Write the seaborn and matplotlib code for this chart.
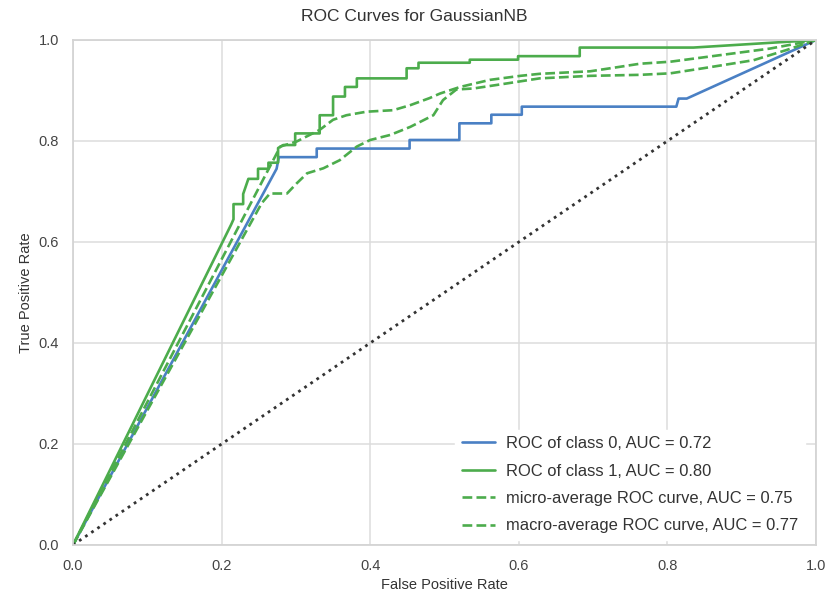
import matplotlib
matplotlib.use("Agg")
import matplotlib.pyplot as plt
import pandas as pd
import seaborn as sns

# ROC curve points (false positive rate, true positive rate)
class0_fpr = [0.0, 0.274, 0.277, 0.328, 0.328, 0.453, 0.453, 0.520, 0.520, 0.563, 0.563,
              0.604, 0.604, 0.812, 0.815, 0.826, 1.0]
class0_tpr = [0.0, 0.745, 0.768, 0.768, 0.785, 0.785, 0.802, 0.802, 0.835, 0.835, 0.852,
              0.852, 0.868, 0.868, 0.884, 0.884, 1.0]

class1_fpr = [0.0, 0.213, 0.216, 0.216, 0.229, 0.229, 0.236, 0.249, 0.249, 0.263, 0.263,
              0.276, 0.276, 0.283, 0.299, 0.299, 0.332, 0.332, 0.350, 0.350, 0.366, 0.366,
              0.382, 0.382, 0.449, 0.449, 0.465, 0.465, 0.534, 0.534, 0.599, 0.599, 0.682,
              0.682, 0.835, 1.0]
class1_tpr = [0.0, 0.635, 0.645, 0.675, 0.675, 0.695, 0.725, 0.725, 0.745, 0.745, 0.757,
              0.757, 0.786, 0.792, 0.792, 0.815, 0.815, 0.851, 0.851, 0.888, 0.888, 0.907,
              0.907, 0.924, 0.924, 0.944, 0.944, 0.955, 0.955, 0.961, 0.961, 0.968, 0.968,
              0.985, 0.985, 1.0]

micro_fpr = [0.0, 0.254, 0.265, 0.288, 0.301, 0.315, 0.337, 0.359, 0.382, 0.400, 0.427,
             0.454, 0.485, 0.498, 0.516, 0.539, 0.584, 0.628, 0.696, 0.763, 0.804, 0.848,
             0.916, 0.960, 1.0]
micro_tpr = [0.0, 0.677, 0.696, 0.696, 0.716, 0.736, 0.746, 0.762, 0.789, 0.802, 0.812,
             0.828, 0.851, 0.881, 0.902, 0.904, 0.914, 0.924, 0.929, 0.931, 0.934, 0.944,
             0.960, 0.980, 1.0]

macro_fpr = [0.0, 0.279, 0.301, 0.332, 0.350, 0.368, 0.395, 0.431, 0.454, 0.480, 0.494,
             0.521, 0.561, 0.602, 0.628, 0.696, 0.732, 0.763, 0.804, 0.871, 0.938, 1.0]
macro_tpr = [0.0, 0.789, 0.799, 0.822, 0.842, 0.851, 0.858, 0.861, 0.871, 0.885, 0.894,
             0.907, 0.921, 0.929, 0.933, 0.938, 0.946, 0.953, 0.957, 0.970, 0.983, 1.0]

labels = ["ROC of class 0, AUC = 0.72",
          "ROC of class 1, AUC = 0.80",
          "micro-average ROC curve, AUC = 0.75",
          "macro-average ROC curve, AUC = 0.77"]

diag = [0.0, 1.0]
ticks = [0.0, 0.2, 0.4, 0.6, 0.8, 1.0]

sns.set_theme(style="whitegrid")
plt.rcParams["font.family"] = ["Liberation Sans", "DejaVu Sans"]
plt.rcParams["axes.edgecolor"] = "#d4d4d4"
plt.rcParams["grid.color"] = "#dcdcdc"
plt.rcParams["grid.linewidth"] = 1.1

fig = plt.figure(figsize=(8.26, 5.96), dpi=100)
ax = fig.add_axes([0.0884, 0.0856, 0.8995, 0.8473])

blue = "#4a80c4"
green = "#4cac4c"

curves = [
    (class0_fpr, class0_tpr, blue, "-"),
    (class1_fpr, class1_tpr, green, "-"),
    (micro_fpr, micro_tpr, green, "--"),
    (macro_fpr, macro_tpr, green, "--"),
]
for (fx, fy, col, ls), lab in zip(curves, labels):
    df = pd.DataFrame({"fpr": fx, "tpr": fy})
    sns.lineplot(data=df, x="fpr", y="tpr", sort=False, estimator=None,
                 color=col, linestyle=ls, linewidth=1.9, label=lab, ax=ax)

sns.lineplot(x=diag, y=diag, color="#333333", linestyle=":", linewidth=2.0,
             sort=False, estimator=None, ax=ax)

ax.set_xlim(0, 1)
ax.set_ylim(0, 1)
ax.set_xticks(ticks)
ax.set_yticks(ticks)
ax.tick_params(labelsize=10.5, colors="#444444", pad=4)
ax.set_xlabel("False Positive Rate", fontsize=10.5, color="#333333")
ax.set_ylabel("True Positive Rate", fontsize=10.5, color="#333333")
ax.set_title("ROC Curves for GaussianNB", fontsize=12.5, color="#333333",
             x=0.459, pad=14)
for s in ax.spines.values():
    s.set_linewidth(1.3)

leg = ax.legend(loc="lower right", bbox_to_anchor=(0.992, 0.0), fontsize=11.9,
                frameon=True, facecolor="white", edgecolor="white", framealpha=1.0,
                borderaxespad=0.3, handlelength=2.0, handletextpad=0.7,
                labelspacing=0.75)
for t in leg.get_texts():
    t.set_color("#333333")

fig.savefig("out.png", dpi=100)
